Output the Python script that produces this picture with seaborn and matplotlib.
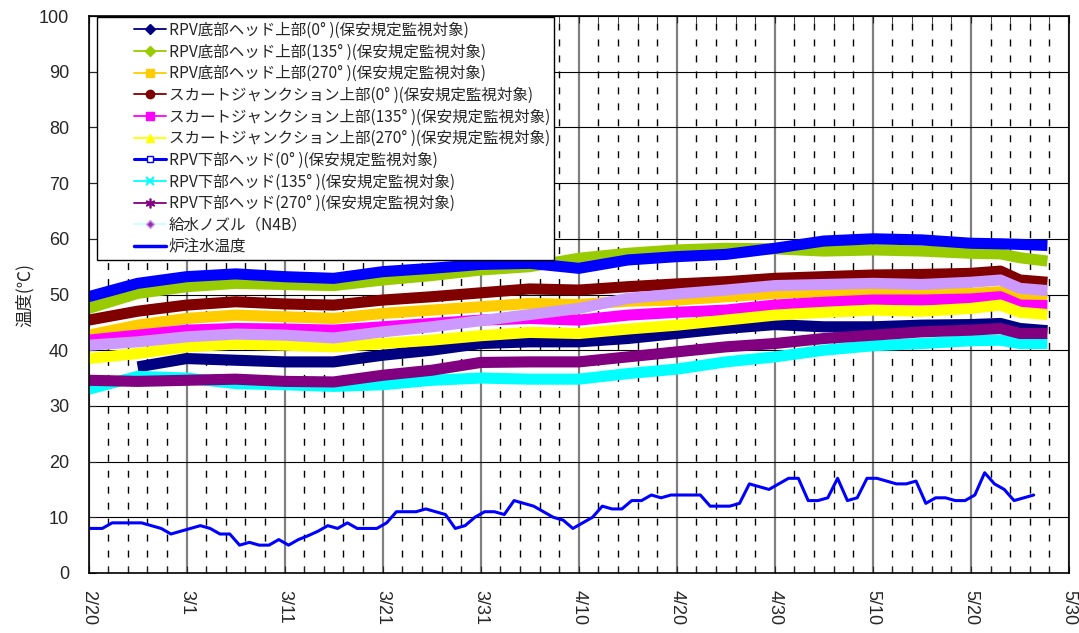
import numpy as np
import pandas as pd
import matplotlib
matplotlib.use("Agg")
import matplotlib.pyplot as plt
import seaborn as sns
from matplotlib.lines import Line2D
from matplotlib.legend_handler import HandlerLine2D
from matplotlib.ticker import MultipleLocator
from matplotlib.font_manager import FontProperties

# 2/20 からの経過日数（読み取り点）
days = [0, 5, 10, 15, 20, 25, 30, 35, 40, 45, 50, 55, 60, 65, 70, 75, 80, 85, 90, 93, 95, 97.8]

rpv_bottom_0 = [np.nan, 37.0, 38.5, 38.2, 37.9, 37.9, 39.1, 40.0, 41.2, 41.5, 41.5, 42.1, 43.0,
                43.9, 44.6, 44.2, 44.2, 44.5, 44.6, 44.8, 43.9, 43.5]
rpv_bottom_135 = [47.5, 50.2, 51.4, 52.0, 51.8, 51.6, 52.6, 53.4, 54.4, 55.0, 56.5, 57.4, 58.0,
                  58.3, 58.2, 57.8, 58.0, 57.8, 57.4, 57.3, 56.6, 56.0]
rpv_bottom_270 = [42.7, 44.5, 45.7, 46.3, 46.0, 45.7, 46.6, 47.2, 47.8, 48.4, 48.2, 48.8, 49.0,
                  49.6, 50.2, 50.5, 50.5, 50.2, 50.2, 50.5, 49.9, 49.4]
skirt_0 = [45.4, 47.0, 48.1, 48.7, 48.3, 48.1, 49.0, 49.6, 50.3, 51.0, 50.8, 51.4, 51.9,
           52.3, 52.9, 53.2, 53.5, 53.6, 53.8, 54.2, 52.6, 52.2]
skirt_135 = [41.8, 42.7, 43.6, 43.9, 43.8, 43.6, 44.2, 44.8, 45.4, 45.7, 45.4, 46.3, 46.8,
             47.2, 48.1, 48.6, 49.0, 49.0, 49.2, 49.6, 48.1, 48.0]
skirt_270 = [38.5, 39.4, 40.6, 41.1, 40.9, 40.6, 41.2, 41.8, 42.6, 43.2, 43.0, 43.8, 44.5,
             45.4, 46.3, 46.8, 47.2, 47.0, 47.5, 48.1, 46.8, 46.4]
lower_head_0 = [49.6, 52.0, 53.2, 53.7, 53.2, 52.9, 54.1, 54.7, 55.4, 55.6, 54.7, 56.2, 56.8,
                57.2, 58.3, 59.6, 60.0, 59.8, 59.2, 59.1, 59.0, 58.8]
lower_head_135 = [33.0, 35.3, 35.0, 34.0, 33.8, 33.5, 33.8, 34.6, 35.0, 34.8, 34.8, 35.8, 36.6,
                  37.9, 38.8, 40.0, 40.8, 41.2, 41.7, 41.8, 41.2, 41.2]
lower_head_270 = [34.6, 34.4, 34.6, 34.8, 34.4, 34.3, 35.5, 36.4, 37.8, 37.9, 37.9, 38.8, 39.7,
                  40.6, 41.2, 42.1, 42.7, 43.3, 43.6, 43.9, 43.0, 43.0]
feedwater_n4b = [40.9, 41.5, 42.4, 42.9, 42.7, 42.2, 43.3, 44.2, 45.3, 46.4, 47.5, 49.3, 50.1,
                 50.8, 51.6, 51.8, 52.0, 51.8, 52.2, 52.6, 51.1, 50.7]

# 炉注水温度（日毎、2/19 から）
inj_days = np.arange(-0.6, 97.0, 1.0)
inj_temp = [8, 8, 8, 9, 9, 9, 9, 8.5, 8, 7, 7.5, 8, 8.5, 8, 7, 7, 5, 5.5, 5, 5, 6, 5, 6, 6.7,
            7.5, 8.5, 8, 9, 8, 8, 8, 9, 11, 11, 11, 11.5, 11, 10.5, 8, 8.5, 10, 11, 11, 10.5,
            13, 12.5, 12, 11, 10, 9.5, 8, 9, 10, 12, 11.5, 11.5, 13, 13, 14, 13.5, 14, 14, 14,
            14, 12, 12, 12, 12.5, 16, 15.5, 15, 16, 17, 17, 13, 13, 13.5, 17, 13, 13.5, 17, 17,
            16.5, 16, 16, 16.5, 12.5, 13.5, 13.5, 13, 13, 14, 18, 16, 15, 13, 13.5, 14]

x_labels = ["2/20", "3/1", "3/11", "3/21", "3/31", "4/10", "4/20", "4/30", "5/10", "5/20", "5/30"]

labels = [
    "RPV底部ヘッド上部(0° )(保安規定監視対象)",
    "RPV底部ヘッド上部(135° )(保安規定監視対象)",
    "RPV底部ヘッド上部(270° )(保安規定監視対象)",
    "スカートジャンクション上部(0° )(保安規定監視対象)",
    "スカートジャンクション上部(135° )(保安規定監視対象)",
    "スカートジャンクション上部(270° )(保安規定監視対象)",
    "RPV下部ヘッド(0° )(保安規定監視対象)",
    "RPV下部ヘッド(135° )(保安規定監視対象)",
    "RPV下部ヘッド(270° )(保安規定監視対象)",
    "給水ノズル（N4B）",
    "炉注水温度",
]
series = [rpv_bottom_0, rpv_bottom_135, rpv_bottom_270, skirt_0, skirt_135, skirt_270,
          lower_head_0, lower_head_135, lower_head_270, feedwater_n4b]
colors = ["#000080", "#99CC00", "#FFCC00", "#800000", "#FF00FF", "#FFFF00",
          "#0000FF", "#00FFFF", "#800080", "#CC99FF"]

df = pd.concat([pd.DataFrame({"day": days, "temp": vals, "name": lab})
                for lab, vals in zip(labels[:10], series)], ignore_index=True)
df = df.dropna()
inj = pd.DataFrame({"day": inj_days, "temp": inj_temp})

sns.set_style("white")
plt.rcParams["font.family"] = ["Liberation Sans", "Noto Sans CJK JP", "DejaVu Sans"]

fig, ax = plt.subplots(figsize=(10.79, 6.33), dpi=100)
fig.subplots_adjust(left=0.0821, right=0.9907, bottom=0.0948, top=0.9747)

sns.lineplot(data=df, x="day", y="temp", hue="name", hue_order=labels[:10],
             palette=dict(zip(labels[:10], colors)), linewidth=8, legend=False,
             estimator=None, sort=True, solid_capstyle="butt", ax=ax)
sns.lineplot(data=inj, x="day", y="temp", color="#0000FF", linewidth=2.2,
             estimator=None, ax=ax)

ax.set_xlim(0, 100)
ax.set_ylim(0, 100)
ax.set_xticks(range(0, 101, 10), x_labels, rotation=-90, fontsize=13)
ax.xaxis.set_minor_locator(MultipleLocator(2))
ax.set_yticks(range(0, 101, 10))
ax.tick_params(axis="y", labelsize=13, direction="in", length=5, pad=14, left=True)
ax.tick_params(axis="x", which="both", direction="in", length=5, top=True, bottom=True, pad=12)
ax.set_xlabel("")
ax.set_ylabel("温度(℃)", fontsize=12.5, family=["Noto Sans CJK JP"], labelpad=4)

ax.set_axisbelow(True)
ax.grid(which="major", axis="x", color="#808080", linewidth=1.6)
ax.grid(which="minor", axis="x", color="black", linewidth=1.0, linestyle=(0, (5, 6.5)))
ax.grid(which="major", axis="y", color="black", linewidth=0.8)
for sp in ax.spines.values():
    sp.set_color("black")
    sp.set_linewidth(1.2)


class RightHandler(HandlerLine2D):
    # 凡例の線を右寄せで描く
    def create_artists(self, legend, orig_handle, xdescent, ydescent, width, height, fontsize, trans):
        shift = width * 0.5
        return super().create_artists(legend, orig_handle, xdescent - shift, ydescent,
                                      width - shift, height, fontsize, trans)


handles = [
    Line2D([], [], color="#000080", lw=1.3, marker="D", ms=5),
    Line2D([], [], color="#99CC00", lw=1.3, marker="D", ms=5),
    Line2D([], [], color="#FFCC00", lw=1.3, marker="s", ms=6),
    Line2D([], [], color="#800000", lw=1.3, marker="o", ms=6),
    Line2D([], [], color="#FF00FF", lw=1.3, marker="s", ms=6),
    Line2D([], [], color="#FFFF00", lw=1.3, marker="^", ms=6),
    Line2D([], [], color="#0000FF", lw=2.2, marker="s", ms=5, mfc="white", mec="#0000FF"),
    Line2D([], [], color="#00FFFF", lw=1.3, marker="x", ms=6, mew=1.5),
    Line2D([], [], color="#800080", lw=1.3, marker=(6, 2, 0), ms=7, mew=1.2),
    Line2D([], [], color="#CCFFFF", lw=1.3, marker="D", ms=4, mfc="#993399", mec="#CC99FF"),
    Line2D([], [], color="#0000FF", lw=2.5),
]
leg = ax.legend(handles, labels, loc="upper left", bbox_to_anchor=(0.0086, 0.998),
                borderaxespad=0, fancybox=False, framealpha=1, edgecolor="black",
                prop=FontProperties(family="Noto Sans CJK JP", size=11.2),
                handlelength=4.15, handletextpad=0.15, labelspacing=0.3, borderpad=0.3,
                handler_map={Line2D: RightHandler()})
leg.get_frame().set_linewidth(1.0)

fig.savefig("out.png", dpi=100)
